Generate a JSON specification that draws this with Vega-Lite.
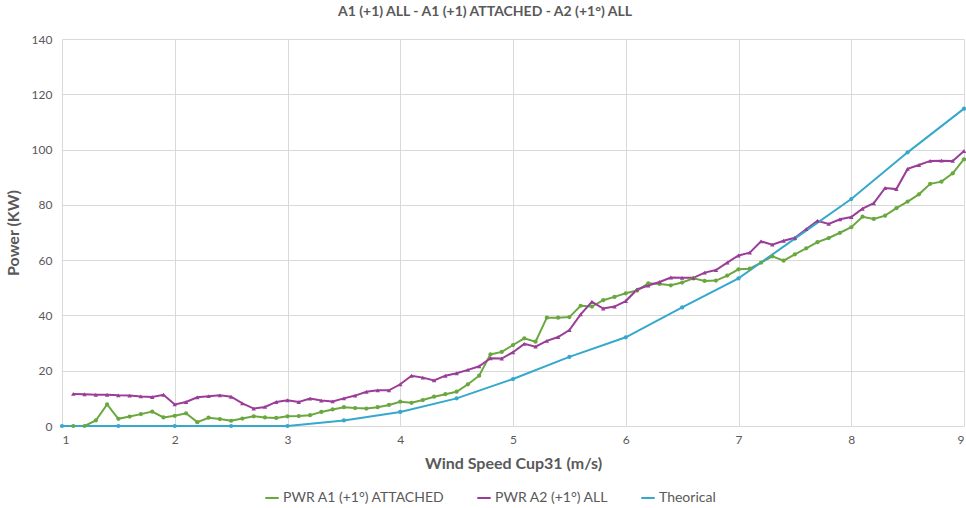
{
  "$schema": "https://vega.github.io/schema/vega-lite/v6.json",
  "width": 902,
  "height": 387,
  "autosize": {"type": "none"},
  "padding": {"left": 62, "top": 39, "right": 2, "bottom": 82},
  "background": "white",
  "title": {"text": "A1 (+1) ALL - A1 (+1) ATTACHED - A2 (+1°) ALL", "fontSize": 14, "fontWeight": "bold", "color": "#595959", "font": "Lato", "offset": 14, "dx": -28},
  "data": {"values": [
    {"s":"PWR A1 (+1°) ATTACHED","ws":1.1,"p":0},{"s":"PWR A1 (+1°) ATTACHED","ws":1.2,"p":0},{"s":"PWR A1 (+1°) ATTACHED","ws":1.3,"p":2.0},{"s":"PWR A1 (+1°) ATTACHED","ws":1.4,"p":7.8},{"s":"PWR A1 (+1°) ATTACHED","ws":1.5,"p":2.6},{"s":"PWR A1 (+1°) ATTACHED","ws":1.6,"p":3.4},{"s":"PWR A1 (+1°) ATTACHED","ws":1.7,"p":4.3},{"s":"PWR A1 (+1°) ATTACHED","ws":1.8,"p":5.2},{"s":"PWR A1 (+1°) ATTACHED","ws":1.9,"p":3.1},{"s":"PWR A1 (+1°) ATTACHED","ws":2.0,"p":3.7},
    {"s":"PWR A1 (+1°) ATTACHED","ws":2.1,"p":4.6},{"s":"PWR A1 (+1°) ATTACHED","ws":2.2,"p":1.4},{"s":"PWR A1 (+1°) ATTACHED","ws":2.3,"p":3.0},{"s":"PWR A1 (+1°) ATTACHED","ws":2.4,"p":2.5},{"s":"PWR A1 (+1°) ATTACHED","ws":2.5,"p":1.9},{"s":"PWR A1 (+1°) ATTACHED","ws":2.6,"p":2.7},{"s":"PWR A1 (+1°) ATTACHED","ws":2.7,"p":3.5},{"s":"PWR A1 (+1°) ATTACHED","ws":2.8,"p":3.1},{"s":"PWR A1 (+1°) ATTACHED","ws":2.9,"p":2.9},{"s":"PWR A1 (+1°) ATTACHED","ws":3.0,"p":3.5},
    {"s":"PWR A1 (+1°) ATTACHED","ws":3.1,"p":3.6},{"s":"PWR A1 (+1°) ATTACHED","ws":3.2,"p":3.9},{"s":"PWR A1 (+1°) ATTACHED","ws":3.3,"p":5.1},{"s":"PWR A1 (+1°) ATTACHED","ws":3.4,"p":6.0},{"s":"PWR A1 (+1°) ATTACHED","ws":3.5,"p":6.8},{"s":"PWR A1 (+1°) ATTACHED","ws":3.6,"p":6.5},{"s":"PWR A1 (+1°) ATTACHED","ws":3.7,"p":6.3},{"s":"PWR A1 (+1°) ATTACHED","ws":3.8,"p":6.8},{"s":"PWR A1 (+1°) ATTACHED","ws":3.9,"p":7.6},{"s":"PWR A1 (+1°) ATTACHED","ws":4.0,"p":8.8},
    {"s":"PWR A1 (+1°) ATTACHED","ws":4.1,"p":8.4},{"s":"PWR A1 (+1°) ATTACHED","ws":4.2,"p":9.4},{"s":"PWR A1 (+1°) ATTACHED","ws":4.3,"p":10.6},{"s":"PWR A1 (+1°) ATTACHED","ws":4.4,"p":11.5},{"s":"PWR A1 (+1°) ATTACHED","ws":4.5,"p":12.4},{"s":"PWR A1 (+1°) ATTACHED","ws":4.6,"p":15.1},{"s":"PWR A1 (+1°) ATTACHED","ws":4.7,"p":18.2},{"s":"PWR A1 (+1°) ATTACHED","ws":4.8,"p":25.9},{"s":"PWR A1 (+1°) ATTACHED","ws":4.9,"p":26.8},{"s":"PWR A1 (+1°) ATTACHED","ws":5.0,"p":29.3},
    {"s":"PWR A1 (+1°) ATTACHED","ws":5.1,"p":31.7},{"s":"PWR A1 (+1°) ATTACHED","ws":5.2,"p":30.5},{"s":"PWR A1 (+1°) ATTACHED","ws":5.3,"p":39.2},{"s":"PWR A1 (+1°) ATTACHED","ws":5.4,"p":39.2},{"s":"PWR A1 (+1°) ATTACHED","ws":5.5,"p":39.4},{"s":"PWR A1 (+1°) ATTACHED","ws":5.6,"p":43.5},{"s":"PWR A1 (+1°) ATTACHED","ws":5.7,"p":43.2},{"s":"PWR A1 (+1°) ATTACHED","ws":5.8,"p":45.5},{"s":"PWR A1 (+1°) ATTACHED","ws":5.9,"p":46.7},{"s":"PWR A1 (+1°) ATTACHED","ws":6.0,"p":48.0},
    {"s":"PWR A1 (+1°) ATTACHED","ws":6.1,"p":49.0},{"s":"PWR A1 (+1°) ATTACHED","ws":6.2,"p":51.6},{"s":"PWR A1 (+1°) ATTACHED","ws":6.3,"p":51.4},{"s":"PWR A1 (+1°) ATTACHED","ws":6.4,"p":50.9},{"s":"PWR A1 (+1°) ATTACHED","ws":6.5,"p":51.9},{"s":"PWR A1 (+1°) ATTACHED","ws":6.6,"p":53.4},{"s":"PWR A1 (+1°) ATTACHED","ws":6.7,"p":52.5},{"s":"PWR A1 (+1°) ATTACHED","ws":6.8,"p":52.6},{"s":"PWR A1 (+1°) ATTACHED","ws":6.9,"p":54.4},{"s":"PWR A1 (+1°) ATTACHED","ws":7.0,"p":56.7},
    {"s":"PWR A1 (+1°) ATTACHED","ws":7.1,"p":56.9},{"s":"PWR A1 (+1°) ATTACHED","ws":7.2,"p":59.1},{"s":"PWR A1 (+1°) ATTACHED","ws":7.3,"p":61.4},{"s":"PWR A1 (+1°) ATTACHED","ws":7.4,"p":59.8},{"s":"PWR A1 (+1°) ATTACHED","ws":7.5,"p":62.1},{"s":"PWR A1 (+1°) ATTACHED","ws":7.6,"p":64.3},{"s":"PWR A1 (+1°) ATTACHED","ws":7.7,"p":66.5},{"s":"PWR A1 (+1°) ATTACHED","ws":7.8,"p":68.0},{"s":"PWR A1 (+1°) ATTACHED","ws":7.9,"p":69.9},{"s":"PWR A1 (+1°) ATTACHED","ws":8.0,"p":71.9},
    {"s":"PWR A1 (+1°) ATTACHED","ws":8.1,"p":75.7},{"s":"PWR A1 (+1°) ATTACHED","ws":8.2,"p":74.9},{"s":"PWR A1 (+1°) ATTACHED","ws":8.3,"p":76.1},{"s":"PWR A1 (+1°) ATTACHED","ws":8.4,"p":78.8},{"s":"PWR A1 (+1°) ATTACHED","ws":8.5,"p":81.2},{"s":"PWR A1 (+1°) ATTACHED","ws":8.6,"p":83.8},{"s":"PWR A1 (+1°) ATTACHED","ws":8.7,"p":87.6},{"s":"PWR A1 (+1°) ATTACHED","ws":8.8,"p":88.4},{"s":"PWR A1 (+1°) ATTACHED","ws":8.9,"p":91.4},{"s":"PWR A1 (+1°) ATTACHED","ws":9.0,"p":96.5},

    {"s":"PWR A2 (+1°) ALL","ws":1.1,"p":11.6},{"s":"PWR A2 (+1°) ALL","ws":1.2,"p":11.5},{"s":"PWR A2 (+1°) ALL","ws":1.3,"p":11.3},{"s":"PWR A2 (+1°) ALL","ws":1.4,"p":11.3},{"s":"PWR A2 (+1°) ALL","ws":1.5,"p":11.1},{"s":"PWR A2 (+1°) ALL","ws":1.6,"p":11.0},{"s":"PWR A2 (+1°) ALL","ws":1.7,"p":10.7},{"s":"PWR A2 (+1°) ALL","ws":1.8,"p":10.5},{"s":"PWR A2 (+1°) ALL","ws":1.9,"p":11.3},{"s":"PWR A2 (+1°) ALL","ws":2.0,"p":7.8},
    {"s":"PWR A2 (+1°) ALL","ws":2.1,"p":8.7},{"s":"PWR A2 (+1°) ALL","ws":2.2,"p":10.4},{"s":"PWR A2 (+1°) ALL","ws":2.3,"p":10.8},{"s":"PWR A2 (+1°) ALL","ws":2.4,"p":11.1},{"s":"PWR A2 (+1°) ALL","ws":2.5,"p":10.6},{"s":"PWR A2 (+1°) ALL","ws":2.6,"p":8.2},{"s":"PWR A2 (+1°) ALL","ws":2.7,"p":6.3},{"s":"PWR A2 (+1°) ALL","ws":2.8,"p":6.9},{"s":"PWR A2 (+1°) ALL","ws":2.9,"p":8.7},{"s":"PWR A2 (+1°) ALL","ws":3.0,"p":9.3},
    {"s":"PWR A2 (+1°) ALL","ws":3.1,"p":8.7},{"s":"PWR A2 (+1°) ALL","ws":3.2,"p":9.9},{"s":"PWR A2 (+1°) ALL","ws":3.3,"p":9.2},{"s":"PWR A2 (+1°) ALL","ws":3.4,"p":8.9},{"s":"PWR A2 (+1°) ALL","ws":3.5,"p":10.0},{"s":"PWR A2 (+1°) ALL","ws":3.6,"p":11.0},{"s":"PWR A2 (+1°) ALL","ws":3.7,"p":12.4},{"s":"PWR A2 (+1°) ALL","ws":3.8,"p":12.9},{"s":"PWR A2 (+1°) ALL","ws":3.9,"p":12.9},{"s":"PWR A2 (+1°) ALL","ws":4.0,"p":15.1},
    {"s":"PWR A2 (+1°) ALL","ws":4.1,"p":18.2},{"s":"PWR A2 (+1°) ALL","ws":4.2,"p":17.5},{"s":"PWR A2 (+1°) ALL","ws":4.3,"p":16.5},{"s":"PWR A2 (+1°) ALL","ws":4.4,"p":18.2},{"s":"PWR A2 (+1°) ALL","ws":4.5,"p":19.1},{"s":"PWR A2 (+1°) ALL","ws":4.6,"p":20.3},{"s":"PWR A2 (+1°) ALL","ws":4.7,"p":21.6},{"s":"PWR A2 (+1°) ALL","ws":4.8,"p":24.5},{"s":"PWR A2 (+1°) ALL","ws":4.9,"p":24.4},{"s":"PWR A2 (+1°) ALL","ws":5.0,"p":26.7},
    {"s":"PWR A2 (+1°) ALL","ws":5.1,"p":29.7},{"s":"PWR A2 (+1°) ALL","ws":5.2,"p":28.7},{"s":"PWR A2 (+1°) ALL","ws":5.3,"p":30.8},{"s":"PWR A2 (+1°) ALL","ws":5.4,"p":32.2},{"s":"PWR A2 (+1°) ALL","ws":5.5,"p":34.7},{"s":"PWR A2 (+1°) ALL","ws":5.6,"p":40.4},{"s":"PWR A2 (+1°) ALL","ws":5.7,"p":44.9},{"s":"PWR A2 (+1°) ALL","ws":5.8,"p":42.5},{"s":"PWR A2 (+1°) ALL","ws":5.9,"p":43.2},{"s":"PWR A2 (+1°) ALL","ws":6.0,"p":45.2},
    {"s":"PWR A2 (+1°) ALL","ws":6.1,"p":49.4},{"s":"PWR A2 (+1°) ALL","ws":6.2,"p":50.8},{"s":"PWR A2 (+1°) ALL","ws":6.3,"p":52.1},{"s":"PWR A2 (+1°) ALL","ws":6.4,"p":53.7},{"s":"PWR A2 (+1°) ALL","ws":6.5,"p":53.6},{"s":"PWR A2 (+1°) ALL","ws":6.6,"p":53.6},{"s":"PWR A2 (+1°) ALL","ws":6.7,"p":55.5},{"s":"PWR A2 (+1°) ALL","ws":6.8,"p":56.4},{"s":"PWR A2 (+1°) ALL","ws":6.9,"p":59.1},{"s":"PWR A2 (+1°) ALL","ws":7.0,"p":61.7},
    {"s":"PWR A2 (+1°) ALL","ws":7.1,"p":62.7},{"s":"PWR A2 (+1°) ALL","ws":7.2,"p":66.8},{"s":"PWR A2 (+1°) ALL","ws":7.3,"p":65.6},{"s":"PWR A2 (+1°) ALL","ws":7.4,"p":67.0},{"s":"PWR A2 (+1°) ALL","ws":7.5,"p":68.1},{"s":"PWR A2 (+1°) ALL","ws":7.6,"p":71.2},{"s":"PWR A2 (+1°) ALL","ws":7.7,"p":74.2},{"s":"PWR A2 (+1°) ALL","ws":7.8,"p":73.1},{"s":"PWR A2 (+1°) ALL","ws":7.9,"p":74.8},{"s":"PWR A2 (+1°) ALL","ws":8.0,"p":75.6},
    {"s":"PWR A2 (+1°) ALL","ws":8.1,"p":78.6},{"s":"PWR A2 (+1°) ALL","ws":8.2,"p":80.6},{"s":"PWR A2 (+1°) ALL","ws":8.3,"p":86.1},{"s":"PWR A2 (+1°) ALL","ws":8.4,"p":85.7},{"s":"PWR A2 (+1°) ALL","ws":8.5,"p":93.0},{"s":"PWR A2 (+1°) ALL","ws":8.6,"p":94.4},{"s":"PWR A2 (+1°) ALL","ws":8.7,"p":95.9},{"s":"PWR A2 (+1°) ALL","ws":8.8,"p":96.0},{"s":"PWR A2 (+1°) ALL","ws":8.9,"p":95.9},{"s":"PWR A2 (+1°) ALL","ws":9.0,"p":99.5},

    {"s":"Theorical","ws":1.0,"p":0},{"s":"Theorical","ws":1.5,"p":0},{"s":"Theorical","ws":2.0,"p":0},{"s":"Theorical","ws":2.5,"p":0},{"s":"Theorical","ws":3.0,"p":0},{"s":"Theorical","ws":3.5,"p":2.0},{"s":"Theorical","ws":4.0,"p":5.1},{"s":"Theorical","ws":4.5,"p":10.0},{"s":"Theorical","ws":5.0,"p":17.0},{"s":"Theorical","ws":5.5,"p":25.0},{"s":"Theorical","ws":6.0,"p":32.1},{"s":"Theorical","ws":6.5,"p":42.9},{"s":"Theorical","ws":7.0,"p":53.4},{"s":"Theorical","ws":7.5,"p":67.8},{"s":"Theorical","ws":8.0,"p":82.1},{"s":"Theorical","ws":8.5,"p":99.0},{"s":"Theorical","ws":9.0,"p":114.8}
  ]},
  "encoding": {
    "x": {"field": "ws", "type": "quantitative", "scale": {"domain": [1, 9], "nice": false, "zero": false},
      "axis": {"title": "Wind Speed Cup31 (m/s)", "values": [1,2,3,4,5,6,7,8,9], "format": "d", "labelPadding": 8, "titlePadding": 10}},
    "y": {"field": "p", "type": "quantitative", "scale": {"domain": [0, 140], "nice": false},
      "axis": {"title": "Power (KW)", "values": [0,20,40,60,80,100,120,140], "labelPadding": 10, "titlePadding": 10}},
    "color": {"field": "s", "type": "nominal",
      "scale": {"domain": ["PWR A1 (+1°) ATTACHED", "PWR A2 (+1°) ALL", "Theorical"], "range": ["#6aa83f", "#9a3d98", "#35a8cc"]},
      "legend": {"title": null, "orient": "none", "direction": "horizontal", "legendX": 202, "legendY": 451, "symbolType": "stroke", "symbolStrokeWidth": 2, "symbolSize": 180, "labelFontSize": 14, "labelColor": "#595959", "labelFont": "Lato", "labelOffset": 3, "labelLimit": 400, "columnPadding": 28}}
  },
  "layer": [
    {"mark": {"type": "line", "strokeWidth": 2, "clip": false}},
    {"transform": [{"filter": "datum.s !== 'PWR A2 (+1°) ALL'"}],
      "mark": {"type": "point", "shape": "circle", "filled": true, "size": 18, "opacity": 1, "clip": false}},
    {"transform": [{"filter": "datum.s === 'PWR A2 (+1°) ALL'"}],
      "mark": {"type": "point", "shape": "triangle-up", "filled": true, "size": 20, "opacity": 1, "clip": false}}
  ],
  "config": {
    "view": {"stroke": null},
    "font": "Lato",
    "axis": {"gridColor": "#d9d9d9", "gridWidth": 1, "ticks": false, "domain": false, "labelColor": "#595959", "labelFontSize": 12, "labelFont": "Lato", "titleColor": "#595959", "titleFontSize": 16, "titleFont": "Lato", "titleFontWeight": "bold"}
  }
}
